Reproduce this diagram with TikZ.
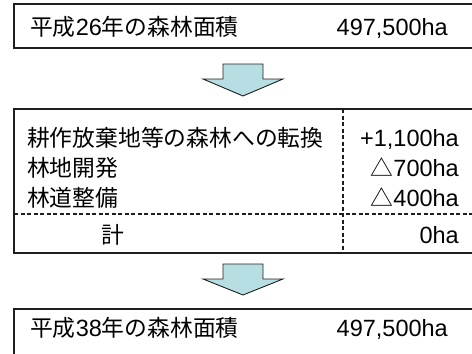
\documentclass[tikz,border=0pt]{standalone}
\usepackage{fontspec}
\setmainfont{Liberation Sans}
\newfontfamily\cjk[Scale=0.97]{Noto Sans CJK JP}
\definecolor{arrowfill}{RGB}{183,222,226}
\definecolor{linec}{RGB}{30,30,30}
\begin{document}
\begin{tikzpicture}[x=1pt,y=-1pt,
  box/.style={draw=linec, line width=1.4pt},
  sepline/.style={draw=linec, line width=1.1pt, dash pattern=on 4pt off 2.5pt},
  lbl/.style={inner sep=0pt, font=\fontsize{23.5}{27}\selectfont},
  downarrow/.style={draw=linec, line width=0.9pt, fill=arrowfill, line join=miter}]
\useasboundingbox (0,0) rectangle (472,354);
\clip (0,0) rectangle (472,354);
% top box
\draw[box] (14,4) rectangle (490,48);
\node[lbl, anchor=base west] (t1) at (30,35) {{\cjk 平成}26{\cjk 年の森林面積}};
\node[lbl, anchor=base east] (v1) at (448,35) {497,500ha};
% arrow 1
\draw[downarrow] (223,64) -- (263,64) -- (263,79) -- (283,79) -- (243,96) -- (203,79) -- (223,79) -- cycle;
% middle table
\draw[box] (14,109) rectangle (490,253);
\coordinate (dtop) at (343,109);
\coordinate (dbot) at (343,253);
\coordinate (hl) at (14,214);
\coordinate (hr) at (490,214);
\draw[sepline] (dtop) -- (dbot);
\draw[sepline] (hl) -- (hr);
\node[lbl, anchor=base west] (r1) at (27,146) {\cjk 耕作放棄地等の森林への転換};
\node[lbl, anchor=base west] (r2) at (27,176) {\cjk 林地開発};
\node[lbl, anchor=base west] (r3) at (27,206) {\cjk 林道整備};
\node[lbl, anchor=base east] (n1) at (459,146) {+1,100ha};
\node[lbl, anchor=base east] (n2) at (459,176) {{\cjk △}700ha};
\node[lbl, anchor=base east] (n3) at (459,206) {{\cjk △}400ha};
\node[lbl, anchor=base] (sum) at (113,243) {\cjk 計};
\node[lbl, anchor=base east] (sumv) at (459,243) {0ha};
% arrow 2
\draw[downarrow] (223,264) -- (263,264) -- (263,279) -- (283,279) -- (243,295) -- (203,279) -- (223,279) -- cycle;
% bottom box
\draw[box] (14,309) rectangle (490,370);
\node[lbl, anchor=base west] (t2) at (30,336) {{\cjk 平成}38{\cjk 年の森林面積}};
\node[lbl, anchor=base east] (v2) at (448,336) {497,500ha};
\end{tikzpicture}
\end{document}
